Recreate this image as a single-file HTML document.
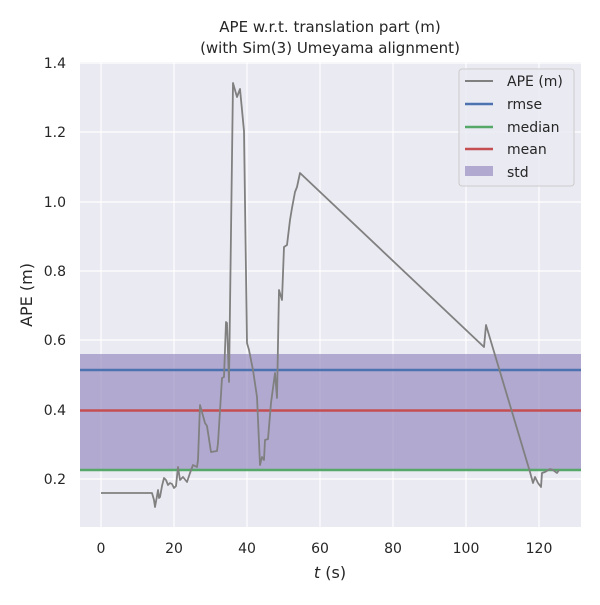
<!DOCTYPE html><html><head><style>body{margin:0;background:#fff}</style></head><body>
<svg width="600" height="600" xmlns="http://www.w3.org/2000/svg" font-family="DejaVu Sans, sans-serif">
<rect x="80" y="62" width="501" height="465" fill="#eaeaf2"/>
<g stroke="#fff" stroke-width="1.2">
<line x1="101" x2="101" y1="62" y2="527"/><line x1="174" x2="174" y1="62" y2="527"/><line x1="247" x2="247" y1="62" y2="527"/><line x1="320" x2="320" y1="62" y2="527"/><line x1="393" x2="393" y1="62" y2="527"/><line x1="466" x2="466" y1="62" y2="527"/><line x1="539" x2="539" y1="62" y2="527"/>
<line x1="80" x2="581" y1="479" y2="479"/><line x1="80" x2="581" y1="410" y2="410"/><line x1="80" x2="581" y1="340" y2="340"/><line x1="80" x2="581" y1="271" y2="271"/><line x1="80" x2="581" y1="202" y2="202"/><line x1="80" x2="581" y1="132" y2="132"/><line x1="80" x2="581" y1="63" y2="63"/>
</g>
<rect x="80" y="354" width="501" height="115" fill="#8172b3" fill-opacity="0.55"/>
<line x1="80" x2="581" y1="370" y2="370" stroke="#4c72b0" stroke-width="2.5"/>
<line x1="80" x2="581" y1="470" y2="470" stroke="#55a868" stroke-width="2.5"/>
<line x1="80" x2="581" y1="410.5" y2="410.5" stroke="#c44e52" stroke-width="2.5"/>
<polyline fill="none" stroke="#808080" stroke-width="1.8" stroke-linejoin="round" points="101,493 152,493 154,500 155,507 157,496 158,490 159,498 160,497 162,486 164,478 166,480 168,485 170,483 172,484 174,488 176,486 178,467 180,480 183,477 187,482 190,473 193,465 197,467 198,460 200,405 205,423 207,426 211,452 217,451 218,443 222,378 224,377 226,322 227,323 229,382 233,83 237,97 240,89 242,110 244,131 247,343 249,350 253,370 257,397 260,465 262,457 264,460 265,440 268,439 271,403 275,373 277,398 279,290 282,300 284,247 287,245 290,220 292,208 295,192 297,187 300,173 484,347 486,325 530,472 533,483 535,477 538,483 541,487 542,473 545,472 550,469 553,470 557,473 559,470"/>
<g font-size="14" fill="#262626" text-anchor="end">
<text x="66" y="484">0.2</text><text x="66" y="415">0.4</text><text x="66" y="345">0.6</text><text x="66" y="276">0.8</text><text x="66" y="207">1.0</text><text x="66" y="137">1.2</text><text x="66" y="68">1.4</text>
</g>
<g font-size="14" fill="#262626" text-anchor="middle">
<text x="101" y="553">0</text><text x="174" y="553">20</text><text x="247" y="553">40</text><text x="320" y="553">60</text><text x="393" y="553">80</text><text x="466" y="553">100</text><text x="539" y="553">120</text>
<text x="330" y="578" font-size="16"><tspan font-style="italic">t</tspan> (s)</text>
<text x="330" y="32" font-size="15">APE w.r.t. translation part (m)</text>
<text x="330" y="53" font-size="15">(with Sim(3) Umeyama alignment)</text>
<text transform="translate(32,295) rotate(-90)" font-size="16">APE (m)</text>
</g>
<rect x="459" y="69" width="115" height="117" rx="3" fill="#eaeaf2" fill-opacity="0.8" stroke="#ccc"/>
<g font-size="14" fill="#262626">
<line x1="465" x2="493" y1="81" y2="81" stroke="#808080" stroke-width="2"/><text x="507" y="86">APE (m)</text>
<line x1="465" x2="493" y1="104" y2="104" stroke="#4c72b0" stroke-width="2.5"/><text x="507" y="109">rmse</text>
<line x1="465" x2="493" y1="127" y2="127" stroke="#55a868" stroke-width="2.5"/><text x="507" y="132">median</text>
<line x1="465" x2="493" y1="149" y2="149" stroke="#c44e52" stroke-width="2.5"/><text x="507" y="154">mean</text>
<rect x="465" y="166" width="28" height="10" fill="#8172b3" fill-opacity="0.55"/><text x="507" y="177">std</text>
</g>
</svg></body></html>
